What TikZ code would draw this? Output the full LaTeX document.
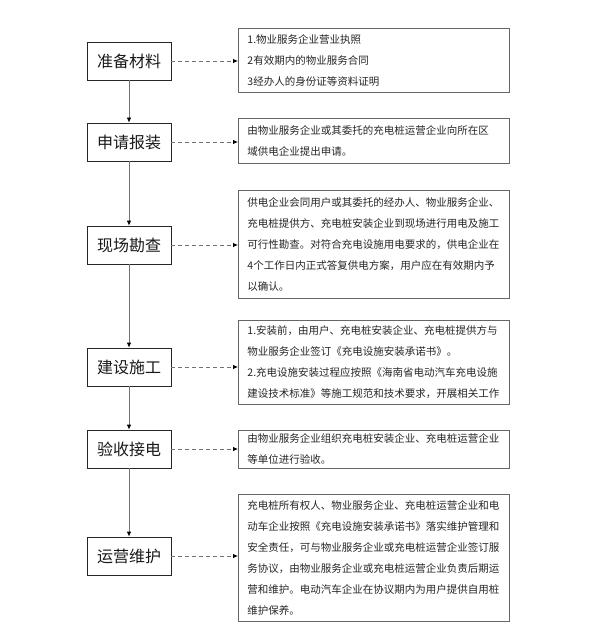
\documentclass[tikz,border=0pt]{standalone}
\usepackage{fontspec}
\setmainfont{Noto Sans CJK SC}
\usetikzlibrary{arrows.meta}
\begin{document}
\begin{tikzpicture}[x=1pt,y=-1pt,
  stepbox/.style={draw=black!85, line width=0.8pt, minimum width=84pt, minimum height=38pt, inner sep=0pt, text=black!90, font=\fontsize{16}{18}\selectfont},
  infobox/.style={draw=black!60, line width=0.9pt, text width=253pt, inner xsep=9pt, inner ysep=0pt, align=left, anchor=north west, text=black!85, font=\fontsize{10.5}{21}\selectfont},
  flow/.style={draw=black!55, line width=0.8pt, -{Latex[color=black,length=5pt,width=4.5pt]}},
  link/.style={flow, dash pattern=on 4pt off 3pt}]
\useasboundingbox (0,0) rectangle (598,639);
\fill[white] (0,0) rectangle (598,639);

\node[stepbox] (s1) at (129,61) {准备材料};
\node[stepbox] (s2) at (129,142) {申请报装};
\node[stepbox] (s3) at (129,245) {现场勘查};
\node[stepbox] (s4) at (129,367) {建设施工};
\node[stepbox] (s5) at (129,449) {验收接电};
\node[stepbox] (s6) at (129,556) {运营维护};

\node[infobox, minimum height=64pt] (i1) at (238,28) {1.物业服务企业营业执照\\2有效期内的物业服务合同\\3经办人的身份证等资料证明};
\node[infobox, minimum height=45pt] (i2) at (238,118) {由物业服务企业或其委托的充电桩运营企业向所在区\\域供电企业提出申请。};
\node[infobox, minimum height=108pt] (i3) at (238,190) {供电企业会同用户或其委托的经办人、物业服务企业、\\充电桩提供方、充电桩安装企业到现场进行用电及施工\\可行性勘查。对符合充电设施用电要求的，供电企业在\\4个工作日内正式答复供电方案，用户应在有效期内予\\以确认。};
\node[infobox, minimum height=84pt] (i4) at (238,320) {1.安装前，由用户、充电桩安装企业、充电桩提供方与\\物业服务企业签订《充电设施安装承诺书》。\\2.充电设施安装过程应按照《海南省电动汽车充电设施\\建设技术标准》等施工规范和技术要求，开展相关工作};
\node[infobox, minimum height=38pt] (i5) at (238,430) {由物业服务企业组织充电桩安装企业、充电桩运营企业\\等单位进行验收。};
\node[infobox, minimum height=127pt] (i6) at (238,494) {充电桩所有权人、物业服务企业、充电桩运营企业和电\\动车企业按照《充电设施安装承诺书》落实维护管理和\\安全责任，可与物业服务企业或充电桩运营企业签订服\\务协议，由物业服务企业或充电桩运营企业负责后期运\\营和维护。电动汽车企业在协议期内为用户提供自用桩\\维护保养。};

\draw[flow] (s1) -- (s2);
\draw[flow] (s2) -- (s3);
\draw[flow] (s3) -- (s4);
\draw[flow] (s4) -- (s5);
\draw[flow] (s5) -- (s6);

\draw[link] (s1.east) -- (s1.east -| i1.west);
\draw[link] (s2.east) -- (s2.east -| i2.west);
\draw[link] (s3.east) -- (s3.east -| i3.west);
\draw[link] (s4.east) -- (s4.east -| i4.west);
\draw[link] (s5.east) -- (s5.east -| i5.west);
\draw[link] (s6.east) -- (s6.east -| i6.west);
\end{tikzpicture}
\end{document}
